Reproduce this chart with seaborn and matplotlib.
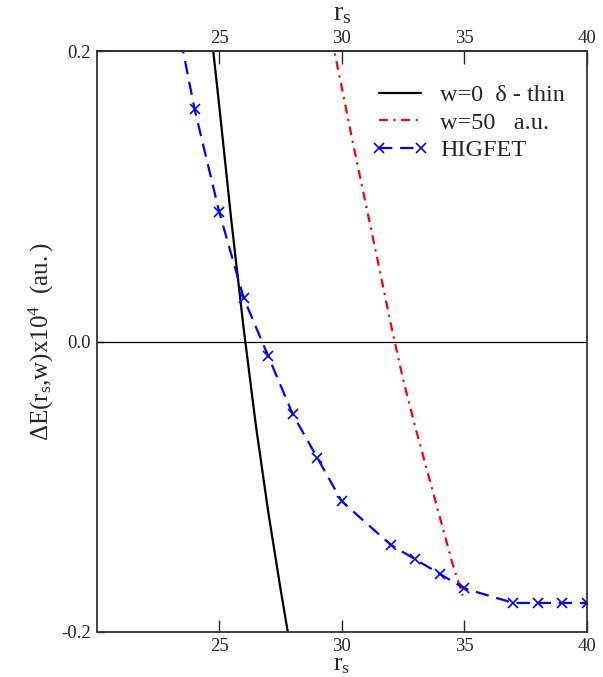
import matplotlib
matplotlib.use("Agg")
import matplotlib.pyplot as plt
import seaborn as sns
import pandas as pd

# data
w0_rs = [24.5, 25.0, 25.5, 26.0, 26.5, 27.0, 27.5, 28.0]
w0_dE = [0.240, 0.163, 0.083, 0.009, -0.058, -0.117, -0.170, -0.220]

w50_rs = [29.6, 30.0, 30.5, 31.0, 31.5, 32.0, 32.5, 33.0, 33.5, 34.0, 34.5, 34.93]
w50_dE = [0.208, 0.175, 0.133, 0.093, 0.053, 0.012, -0.026, -0.059, -0.090, -0.121, -0.152, -0.175]

hig_rs = [23, 24, 25, 26, 27, 28, 29, 30, 32, 33, 34, 35, 37, 38, 39, 40]
hig_dE = [0.245, 0.160, 0.0895, 0.030, -0.010, -0.050, -0.080, -0.110, -0.140,
          -0.150, -0.160, -0.170, -0.180, -0.180, -0.180, -0.180]

xticks = [25, 30, 35, 40]
yticks = [-0.2, 0.0, 0.2]
ytick_labels = ["-0.2", "0.0", "0.2"]
labels = ["w=0  \u03b4 - thin", "w=50   a.u.", "HIGFET"]

sns.set_style("ticks")
plt.rcParams["font.family"] = ["Liberation Serif", "DejaVu Serif"]
plt.rcParams["mathtext.fontset"] = "custom"
plt.rcParams["mathtext.rm"] = "Liberation Serif"
plt.rcParams["mathtext.it"] = "Liberation Serif:italic"
plt.rcParams["axes.unicode_minus"] = False

fig = plt.figure(figsize=(6.03, 6.77), dpi=100)
ax = fig.add_axes([96.5 / 603, 1 - 632 / 677, (587 - 96.5) / 603, (632 - 51) / 677])

df0 = pd.DataFrame({"rs": w0_rs, "dE": w0_dE})
df50 = pd.DataFrame({"rs": w50_rs, "dE": w50_dE})
dfh = pd.DataFrame({"rs": hig_rs, "dE": hig_dE})

ax.axhline(0.0, color="black", lw=0.9, zorder=1)

sns.lineplot(data=df0, x="rs", y="dE", ax=ax, color="black", lw=1.6,
             label=labels[0], sort=False, estimator=None)
sns.lineplot(data=df50, x="rs", y="dE", ax=ax, color="red", lw=1.6,
             label=labels[1], sort=False, estimator=None,
             dashes=False)
ax.lines[-1].set_dashes([4, 2.5, 1, 2.5])
sns.lineplot(data=dfh, x="rs", y="dE", ax=ax, color="blue", lw=1.6,
             label=labels[2], sort=False, estimator=None,
             marker="x", markersize=7, markeredgewidth=1.2, markeredgecolor="blue")
ax.lines[-1].set_dashes([6, 3.5])

ax.set_xlim(20, 40)
ax.set_ylim(-0.2, 0.2)
ax.set_xticks(xticks)
ax.set_xticklabels([str(t) for t in xticks])
ax.set_yticks(yticks)
ax.set_yticklabels(ytick_labels)
ax.tick_params(axis="both", direction="in", length=9, width=1, labelsize=13.5, pad=4)
ax.tick_params(axis="y", length=5, pad=4)

for s in ax.spines.values():
    s.set_linewidth(1.3)
    s.set_color("#333333")

ax.set_xlabel(r"$\mathrm{r_s}$", fontsize=18, labelpad=-0.5)
ax.set_ylabel(r"$\mathrm{\Delta E(r_s{,}w)x10^4\ \ (au.)}$", fontsize=18, labelpad=4)

sec = ax.secondary_xaxis("top")
sec.set_xticks(xticks)
sec.set_xticklabels([str(t) for t in xticks])
sec.tick_params(direction="in", length=9, width=1, labelsize=13.5, pad=3)
sec.set_xlabel(r"$\mathrm{r_s}$", fontsize=20, labelpad=7)
sec.spines["top"].set_linewidth(1.3)

leg = ax.legend(loc="upper right", bbox_to_anchor=(0.99, 0.972), frameon=False,
                fontsize=17.5, handlelength=2.3, numpoints=2,
                labelspacing=0.22, borderaxespad=0.3, handletextpad=0.5)

fig.savefig("out.png", dpi=100)
